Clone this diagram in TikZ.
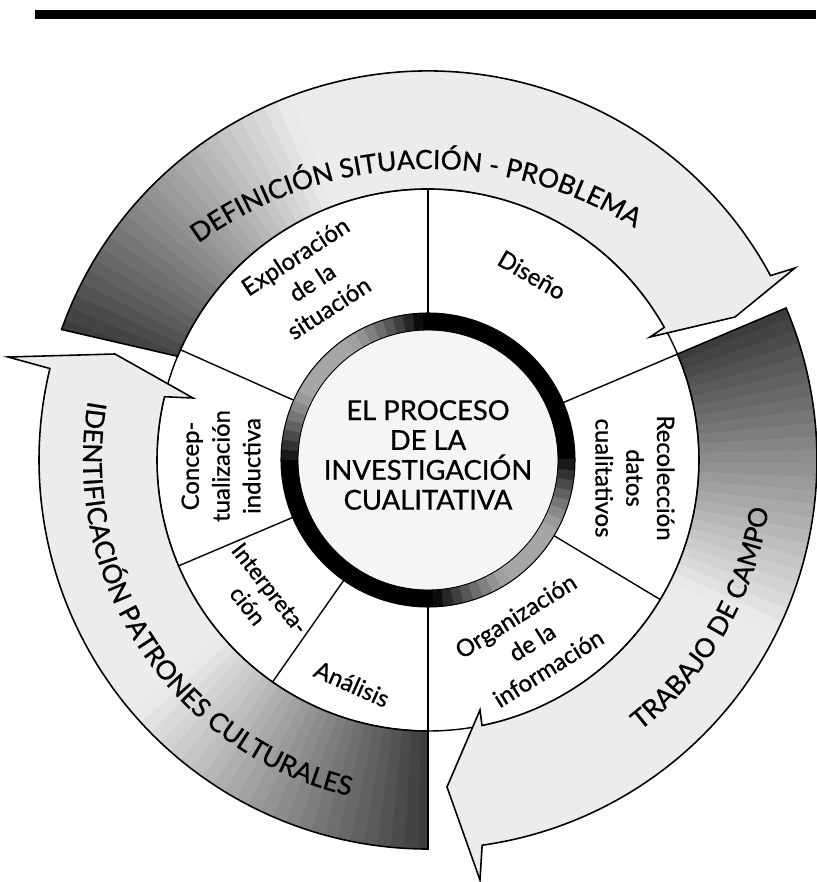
\documentclass[tikz,border=0pt]{standalone}
\usepackage{fontspec}
\setsansfont{Lato}[FakeBold=0.8]
\usepackage{tikz}
\usetikzlibrary{decorations.text}
\definecolor{colBand}{RGB}{236,236,236}
\definecolor{colDisc}{RGB}{245,245,245}
\tikzset{
  outline/.style={draw=black, line width=0.9pt},
  divider/.style={draw=black, line width=0.8pt},
  stage/.style={font=\sffamily\fontsize{13.6}{17.5}\selectfont, align=center, inner sep=0pt},
  core/.style={font=\sffamily\fontsize{15.6}{17}\selectfont, align=center, inner sep=0pt},
  bandtext/.style={decorate, decoration={text along path, text align=center, text={#1}}},
}
\newcommand{\bandfont}{\sffamily\fontsize{15}{17}\selectfont}
% the three curved arrows of the outer band (units: px, origin at the hub)
\newcommand{\arrowDefinicion}{(160.4:389) arc[start angle=160.4, end angle=28.3, radius=389]
  -- (367,192) -- (307,143) -- (222,123) -- (29.3:271) arc[start angle=29.3, end angle=157.5, radius=271] -- cycle}
\newcommand{\arrowCampo}{(23:389) arc[start angle=23, end angle=-82, radius=389]
  -- (52,-420) -- (19,-327) -- (52,-250) -- (-78.5:271) arc[start angle=-78.5, end angle=23, radius=271] -- cycle}
\newcommand{\arrowPatrones}{(270:389) arc[start angle=270, end angle=166.4, radius=389]
  -- (-420,103) -- (-313,106) -- (-235,62) -- (166.5:271) arc[start angle=166.5, end angle=270, radius=271] -- cycle}
% dark tail fading out clockwise from angle #1
\newcommand{\fadetail}[1]{%
  \foreach \i in {0,...,24} {
    \pgfmathsetmacro\dk{max(8,76-2.8*\i)}
    \fill[black!\dk] (0,0) -- (#1+0.5-2*\i:450) arc[start angle=#1+0.5-2*\i, end angle=#1-1.8-2*\i, radius=450] -- cycle;
  }}

\begin{document}
\begin{tikzpicture}[x=0.02cm, y=0.02cm]
\useasboundingbox (-428,-422) rectangle (388,460);

% ── Header rule ────────────────────────────────────────────────────────────
\fill (-393,441) rectangle (388,450);

% ── Ring of stages ─────────────────────────────────────────────────────────
\fill[white] (0,0) circle[radius=271];
\draw[divider] (0,0) circle[radius=271];
\foreach \a in {90,23,-31,-90,235,203,156}
  \draw[divider] (\a:147) -- (\a:271);

% ── Outer arrows ───────────────────────────────────────────────────────────
\fill[colBand] \arrowDefinicion;
\begin{scope}
  \clip \arrowDefinicion;
  \fadetail{160.4}
\end{scope}
\draw[outline] \arrowDefinicion;

\fill[colBand] \arrowCampo;
\begin{scope}
  \clip \arrowCampo;
  \fadetail{23}
\end{scope}
\draw[outline] \arrowCampo;

\fill[colBand] \arrowPatrones;
\begin{scope}
  \clip \arrowPatrones;
  \fadetail{270}
\end{scope}
\draw[outline] \arrowPatrones;

% ── Hub ────────────────────────────────────────────────────────────────────
\fill[colDisc] (0,0) circle[radius=147];
\foreach \a in {0,4,...,356} {
  \pgfmathsetmacro\dk{35+65*max(0,min(1,(cos(2*(\a+2-47))+0.9)/0.9))}
  \fill[black!\dk] (\a:130) arc[start angle=\a, end angle=\a+4.5, radius=130]
    -- (\a+4.5:147) arc[start angle=\a+4.5, end angle=\a, radius=147] -- cycle;
}
\draw[line width=0.6pt] (0,0) circle[radius=147];
\draw[line width=0.5pt] (0,0) circle[radius=130];
\node[core] (hub) at (0,5) {EL PROCESO\\DE LA\\INVESTIGACIÓN\\CUALITATIVA};

% ── Stage labels ───────────────────────────────────────────────────────────
\node[stage, rotate=33]  (explo)   at (-116,178) {Exploración\\de la\\situación};
\node[stage, rotate=-30] (diseno)  at (104,185)  {Diseño};
\node[stage, rotate=-90] (recol)   at (207,-18)  {Recolección\\datos\\cualitativos};
\node[stage, rotate=32]  (organ)   at (104,-182) {Organización\\de la\\información};
\node[stage, rotate=-24] (analisis) at (-76,-224) {Análisis};
\node[stage, rotate=-52, font=\sffamily\fontsize{13}{16}\selectfont]
  (interp) at (-169,-137) {Interpreta-\\ción};
\node[stage, rotate=90]  (concep)  at (-207,-6)  {Concep-\\tualización\\inductiva};

% ── Band titles ────────────────────────────────────────────────────────────
\path[shift={(0,-100)}, bandtext={|\bandfont|DEFINICIÓN SITUACIÓN - PROBLEMA}]
  (155:391) arc[start angle=155, end angle=29, radius=391];
\path[bandtext={|\bandfont|TRABAJO DE CAMPO}]
  (-80:344) arc[start angle=-80, end angle=20, radius=344];
\path[bandtext={|\bandfont|IDENTIFICACIÓN PATRONES CULTURALES}]
  (165:345) arc[start angle=165, end angle=262, radius=345];

\end{tikzpicture}
\end{document}
